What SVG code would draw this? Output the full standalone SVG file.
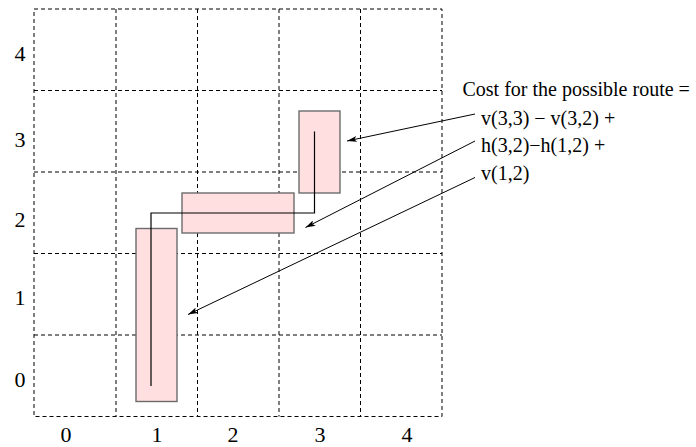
<svg xmlns="http://www.w3.org/2000/svg" width="696" height="447" viewBox="0 0 696 447">
<defs>
<style>
.grid{fill:none;stroke:#000;stroke-width:1;stroke-dasharray:4,3}
.cell{fill:#ffdfdf;stroke:#6b6b6b;stroke-width:1.4}
.route{fill:none;stroke:#000;stroke-width:1.2}
.conn{fill:none;stroke:#000;stroke-width:1;marker-end:url(#ah)}
.ax{font-family:"Liberation Serif",serif;font-size:22px;fill:#000;text-anchor:middle}
.lbl{font-family:"Liberation Serif",serif;font-size:20px;fill:#000}
</style>
<marker id="ah" viewBox="0 0 10 6" refX="10" refY="3" markerWidth="10" markerHeight="6" markerUnits="userSpaceOnUse" orient="auto">
<path d="M0,0 L10,3 L0,6 L2.5,3 Z" fill="#000"/>
</marker>
</defs>
<rect width="696" height="447" fill="#fff"/>
<g id="grid">
<rect class="grid" x="34" y="9" width="408" height="407.5"/>
<path class="grid" d="M116,9V416.5M197.5,9V416.5M279,9V416.5M360.5,9V416.5M34,90.5H442M34,172H442M34,253.5H442M34,335H442"/>
</g>
<g id="axis-labels">
<text class="ax" x="20" y="61">4</text>
<text class="ax" x="20" y="147">3</text>
<text class="ax" x="20" y="227">2</text>
<text class="ax" x="20" y="305">1</text>
<text class="ax" x="20" y="387">0</text>
<text class="ax" x="66" y="442">0</text>
<text class="ax" x="157" y="442">1</text>
<text class="ax" x="233" y="442">2</text>
<text class="ax" x="320" y="442">3</text>
<text class="ax" x="407" y="442">4</text>
</g>
<g id="cell-v12"><rect class="cell" x="136" y="228.5" width="41" height="173"/></g>
<g id="cell-h32"><rect class="cell" x="182" y="193" width="112" height="40"/></g>
<g id="cell-v33"><rect class="cell" x="299" y="111" width="41" height="82"/></g>
<g id="route"><path class="route" d="M314.5,131.5V213H151V386"/></g>
<g id="label">
<text class="lbl" x="462.5" y="96">Cost for the possible route =</text>
<text class="lbl" x="481" y="125">v(3,3) − v(3,2) +</text>
<text class="lbl" x="481" y="152">h(3,2)−h(1,2) +</text>
<text class="lbl" x="481" y="180">v(1,2)</text>
</g>
<g id="connectors">
<line class="conn" x1="475" y1="114" x2="347" y2="141"/>
<line class="conn" x1="475" y1="141" x2="305.5" y2="227.5"/>
<line class="conn" x1="475" y1="177.5" x2="188" y2="314.5"/>
</g>
</svg>
